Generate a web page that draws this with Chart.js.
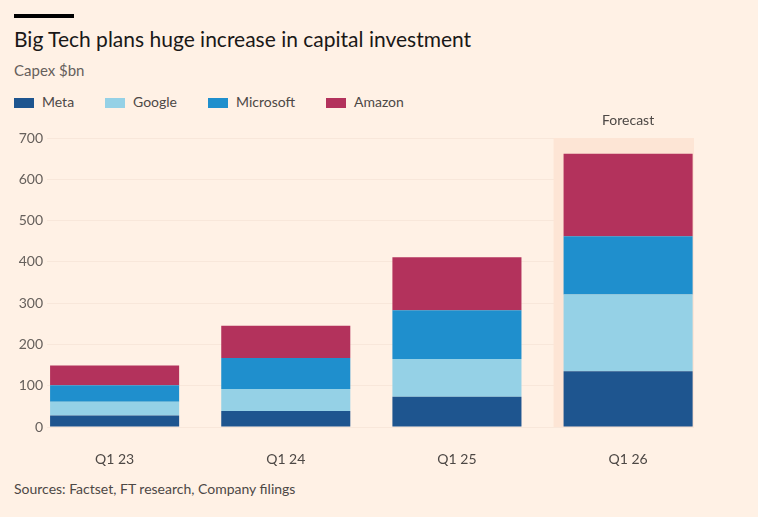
<!DOCTYPE html>
<html>
<head>
<meta charset="utf-8">
<script src="https://cdn.jsdelivr.net/npm/chart.js@4/dist/chart.umd.min.js"></script>
<style>
  html, body { margin: 0; padding: 0; }
  body {
    width: 758px; height: 517px; position: relative; overflow: hidden;
    background: #fff1e5; font-family: Lato, "Noto Sans", sans-serif;
  }
  .rule { position: absolute; left: 14px; top: 14px; width: 60px; height: 4px; background: #000; }
  .title { position: absolute; left: 14px; top: 26px; font-size: 21px; color: #1a1817; white-space: nowrap; }
  .sub { position: absolute; left: 14px; top: 61px; font-size: 15px; color: #66605c; }
  .legend { position: absolute; left: 14px; top: 93px; font-size: 14px; color: #4d4845; }
  .legend span.item { position: absolute; white-space: nowrap; }
  .legend i { display: inline-block; width: 20px; height: 10px; vertical-align: -1px; margin-right: 8px; }
  .source { position: absolute; left: 14px; top: 480px; font-size: 14px; color: #4d4845; }
  .wrap { position: absolute; left: 0; top: 100px; width: 758px; height: 380px; }
</style>
</head>
<body>
<div class="rule"></div>
<div class="title">Big Tech plans huge increase in capital investment</div>
<div class="sub">Capex $bn</div>
<div class="legend" id="legend"></div>
<div class="wrap"><canvas id="capexChart"></canvas></div>
<div class="source">Sources: Factset, FT research, Company filings</div>

<script>
/* ── Data ─────────────────────────────────────────────────── */
const quarters  = ['Q1 23', 'Q1 24', 'Q1 25', 'Q1 26'];
const meta      = [28, 39, 73, 135];
const google    = [33, 53, 92, 186];
const microsoft = [40, 75, 118, 141];
const amazon    = [48, 78, 128, 200];
const yTicks    = [0, 100, 200, 300, 400, 500, 600, 700];
const forecastIndex = 3;

const seriesNames  = ['Meta', 'Google', 'Microsoft', 'Amazon'];
const seriesColors = ['#1e558f', '#95d1e6', '#1f8fcd', '#b3325c'];
const legendLeft   = [0, 91, 194, 312];

/* ── Custom legend ────────────────────────────────────────── */
document.getElementById('legend').innerHTML = seriesNames.map((n, i) =>
  `<span class="item" style="left:${legendLeft[i]}px"><i style="background:${seriesColors[i]}"></i>${n}</span>`
).join('');

/* ── Forecast shading behind the last bar ─────────────────── */
const forecastShade = {
  id: 'forecastShade',
  beforeDatasetsDraw(chart) {
    const { ctx, chartArea, scales } = chart;
    const bar = chart.getDatasetMeta(0).data[forecastIndex];
    const left = bar.x - bar.width / 2 - 10;
    ctx.save();
    ctx.fillStyle = '#fde5d5';
    ctx.fillRect(left, chartArea.top, chartArea.right - left, chartArea.bottom - chartArea.top);
    ctx.fillStyle = '#4d4845';
    ctx.font = '14px Lato, "Noto Sans", sans-serif';
    ctx.textAlign = 'center';
    ctx.textBaseline = 'middle';
    ctx.fillText('Forecast', scales.x.getPixelForValue(forecastIndex), chartArea.top - 18);
    ctx.restore();
  }
};

const allSeries = [meta, google, microsoft, amazon];

new Chart(document.getElementById('capexChart'), {
  type: 'bar',
  data: {
    datasets: allSeries.map((vals, i) => ({
      label: seriesNames[i],
      data: vals.map((v, k) => ({ x: k, y: v })),
      backgroundColor: seriesColors[i],
      borderWidth: 0,
      barPercentage: 0.754,
      categoryPercentage: 1
    }))
  },
  options: {
    responsive: true,
    maintainAspectRatio: false,
    animation: false,
    layout: { padding: { top: 38, right: 64, left: 0, bottom: 0 } },
    plugins: { legend: { display: false }, tooltip: { enabled: false } },
    scales: {
      x: {
        type: 'linear',
        stacked: true,
        offset: false,
        min: -0.395,
        max: 3.385,
        grid: { display: false, offset: false },
        border: { display: false },
        afterBuildTicks: s => { s.ticks = quarters.map((_, i) => ({ value: i })); },
        afterFit: s => { s.height = 53; },
        ticks: {
          padding: 16,
          color: '#4d4845',
          font: { family: 'Lato', size: 14 },
          callback: v => quarters[v]
        }
      },
      y: {
        stacked: true,
        min: 0,
        max: 700,
        afterBuildTicks: s => { s.ticks = yTicks.map(v => ({ value: v })); },
        afterFit: s => { s.width = 47; },
        grid: { color: 'rgba(120,60,20,0.05)', drawTicks: false },
        border: { display: false },
        ticks: {
          padding: 4,
          color: '#66605c',
          font: { family: 'Lato', size: 14 }
        }
      }
    }
  },
  plugins: [forecastShade]
});
</script>
</body>
</html>
